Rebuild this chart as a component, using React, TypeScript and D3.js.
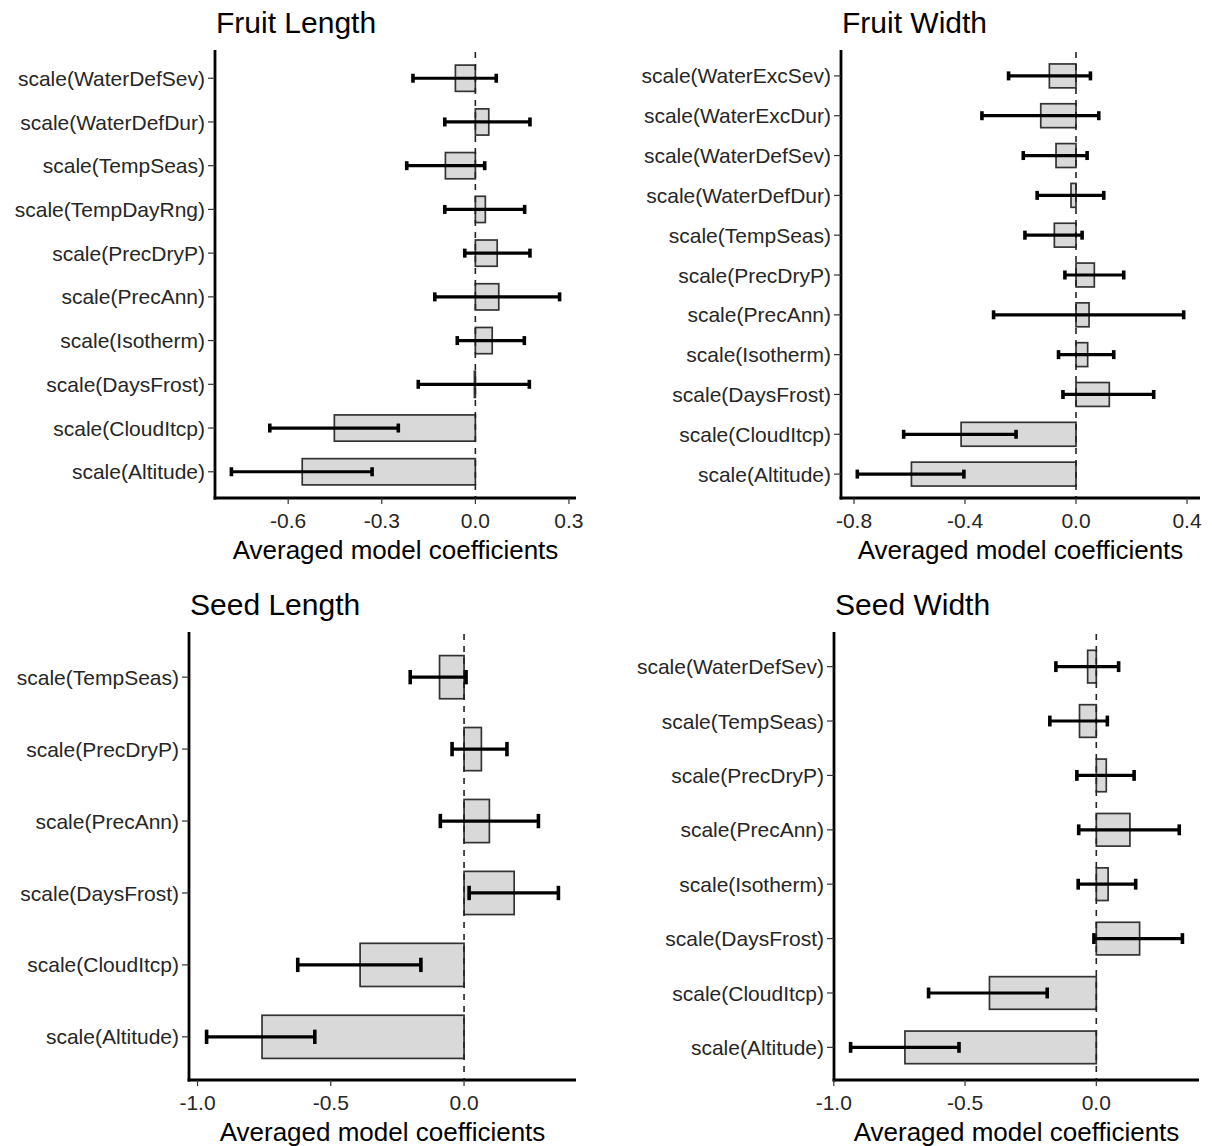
import * as d3 from "d3";

// Fruit Length
const FL_CATS = ["scale(WaterDefSev)", "scale(WaterDefDur)", "scale(TempSeas)", "scale(TempDayRng)", "scale(PrecDryP)", "scale(PrecAnn)", "scale(Isotherm)", "scale(DaysFrost)", "scale(CloudItcp)", "scale(Altitude)"];
const FL_EST = [-0.064, 0.043, -0.096, 0.032, 0.07, 0.075, 0.054, -0.003, -0.452, -0.555];
const FL_LO = [-0.2, -0.098, -0.22, -0.098, -0.034, -0.13, -0.058, -0.183, -0.659, -0.782];
const FL_HI = [0.067, 0.175, 0.03, 0.158, 0.175, 0.27, 0.157, 0.173, -0.247, -0.331];
const FL_TICKS = [-0.6, -0.3, 0, 0.3];

// Fruit Width
const FW_CATS = ["scale(WaterExcSev)", "scale(WaterExcDur)", "scale(WaterDefSev)", "scale(WaterDefDur)", "scale(TempSeas)", "scale(PrecDryP)", "scale(PrecAnn)", "scale(Isotherm)", "scale(DaysFrost)", "scale(CloudItcp)", "scale(Altitude)"];
const FW_EST = [-0.096, -0.127, -0.072, -0.018, -0.078, 0.066, 0.047, 0.042, 0.12, -0.414, -0.593];
const FW_LO = [-0.243, -0.339, -0.19, -0.14, -0.184, -0.04, -0.297, -0.063, -0.047, -0.621, -0.788];
const FW_HI = [0.052, 0.082, 0.04, 0.1, 0.022, 0.172, 0.388, 0.136, 0.28, -0.216, -0.404];
const FW_TICKS = [-0.8, -0.4, 0, 0.4];

// Seed Length
const SL_CATS = ["scale(TempSeas)", "scale(PrecDryP)", "scale(PrecAnn)", "scale(DaysFrost)", "scale(CloudItcp)", "scale(Altitude)"];
const SL_EST = [-0.092, 0.065, 0.095, 0.188, -0.39, -0.758];
const SL_LO = [-0.202, -0.045, -0.089, 0.019, -0.624, -0.966];
const SL_HI = [0.0075, 0.161, 0.279, 0.354, -0.162, -0.56];
const SL_TICKS = [-1, -0.5, 0];

// Seed Width
const SW_CATS = ["scale(WaterDefSev)", "scale(TempSeas)", "scale(PrecDryP)", "scale(PrecAnn)", "scale(Isotherm)", "scale(DaysFrost)", "scale(CloudItcp)", "scale(Altitude)"];
const SW_EST = [-0.033, -0.064, 0.038, 0.128, 0.045, 0.165, -0.407, -0.729];
const SW_LO = [-0.154, -0.177, -0.074, -0.067, -0.069, -0.009, -0.639, -0.936];
const SW_HI = [0.085, 0.042, 0.144, 0.316, 0.15, 0.328, -0.187, -0.523];
const SW_TICKS = [-1, -0.5, 0];

const X_TITLE = "Averaged model coefficients";
const FONT = '"Liberation Sans", Arial, sans-serif';
const fmt = (v: number) => v.toFixed(1);

interface PanelProps {
  title: string;
  cats: string[];
  est: number[];
  lo: number[];
  hi: number[];
  ticks: number[];
  left: number;
  right: number;
  top: number;
  bottom: number;
}

function Panel({ title, cats, est, lo, hi, ticks, left, right, top, bottom }: PanelProps) {
  const min = d3.min([...lo, ...est, 0])!;
  const max = d3.max([...hi, ...est, 0])!;
  const pad = (max - min) * 0.05;
  const x = d3.scaleLinear().domain([min - pad, max + pad]).range([left, right]);
  const y = d3.scaleBand<string>().domain(cats).range([top, bottom]).paddingInner(0.4).paddingOuter(0.3);
  const bw = y.bandwidth();
  const cap = Math.max(4.5, y.step() * 0.1);
  const x0 = x(0);

  return (
    <g>
      <text x={left + 1} y={top - 19} fontSize={30} fill="#000" fontFamily={FONT}>
        {title}
      </text>

      {cats.map((c, i) => {
        const v = est[i];
        return (
          <rect
            key={"b" + c}
            x={Math.min(x(v), x0)}
            y={y(c)!}
            width={Math.abs(x(v) - x0)}
            height={bw}
            fill="#d9d9d9"
            stroke="#333"
            strokeWidth={1.7}
          />
        );
      })}

      <line x1={x0} x2={x0} y1={top} y2={bottom} stroke="#222" strokeWidth={1.6} strokeDasharray="6,6" />

      {cats.map((c, i) => {
        const cy = y(c)! + bw / 2;
        return (
          <g key={"e" + c} stroke="#000">
            <line x1={x(lo[i])} x2={x(hi[i])} y1={cy} y2={cy} strokeWidth={3.2} />
            <line x1={x(lo[i])} x2={x(lo[i])} y1={cy - cap} y2={cy + cap} strokeWidth={3.6} />
            <line x1={x(hi[i])} x2={x(hi[i])} y1={cy - cap} y2={cy + cap} strokeWidth={3.6} />
          </g>
        );
      })}

      {/* axes */}
      <line x1={left} x2={left} y1={top - 2} y2={bottom + 1.4} stroke="#000" strokeWidth={2.8} />
      <line x1={left - 1.4} x2={right} y1={bottom} y2={bottom} stroke="#000" strokeWidth={2.8} />

      {cats.map((c) => {
        const cy = y(c)! + bw / 2;
        return (
          <g key={"t" + c}>
            <line x1={left - 7} x2={left} y1={cy} y2={cy} stroke="#333" strokeWidth={1.2} />
            <text x={left - 10} y={cy} dy="0.36em" textAnchor="end" fontSize={21} fill="#262626" fontFamily={FONT}>
              {c}
            </text>
          </g>
        );
      })}

      {ticks.map((t) => (
        <g key={"x" + t}>
          <line x1={x(t)} x2={x(t)} y1={bottom} y2={bottom + 6} stroke="#333" strokeWidth={1.2} />
          <text x={x(t)} y={bottom + 30} textAnchor="middle" fontSize={21} fill="#262626" fontFamily={FONT}>
            {fmt(t)}
          </text>
        </g>
      ))}

      <text x={(left + right) / 2} y={bottom + 61} textAnchor="middle" fontSize={26} fill="#000" fontFamily={FONT}>
        {X_TITLE}
      </text>
    </g>
  );
}

export default function App() {
  return (
    <svg
      width={1212}
      height={1146}
      style={{ position: "absolute", left: 0, top: 0, background: "#fff" }}
    >
      <rect width={1212} height={1146} fill="#fff" />
      <Panel title="Fruit Length" cats={FL_CATS} est={FL_EST} lo={FL_LO} hi={FL_HI} ticks={FL_TICKS} left={215} right={576} top={52} bottom={498} />
      <Panel title="Fruit Width" cats={FW_CATS} est={FW_EST} lo={FW_LO} hi={FW_HI} ticks={FW_TICKS} left={841} right={1200} top={52} bottom={498} />
      <Panel title="Seed Length" cats={SL_CATS} est={SL_EST} lo={SL_LO} hi={SL_HI} ticks={SL_TICKS} left={189} right={576} top={634} bottom={1080} />
      <Panel title="Seed Width" cats={SW_CATS} est={SW_EST} lo={SW_LO} hi={SW_HI} ticks={SW_TICKS} left={834} right={1199} top={634} bottom={1080} />
    </svg>
  );
}
